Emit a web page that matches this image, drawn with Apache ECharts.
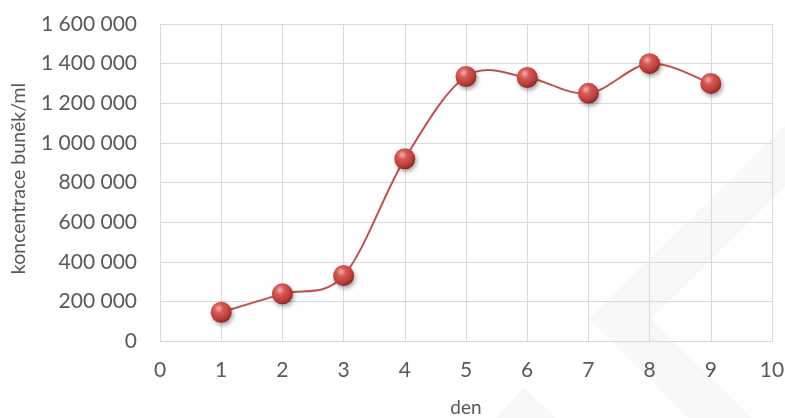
<!DOCTYPE html>
<html>
<head>
<meta charset="utf-8">
<script src="https://cdn.jsdelivr.net/npm/echarts@6/dist/echarts.min.js"></script>
<style>
  html, body { margin: 0; padding: 0; background: #ffffff; }
  #chart { width: 785px; height: 418px; }
</style>
</head>
<body>
<div id="chart"></div>
<script>
// Cell concentration per day
const days = [1, 2, 3, 4, 5, 6, 7, 8, 9];
const concentration = [145000, 238000, 330000, 920000, 1335000, 1330000, 1250000, 1400000, 1300000];
const xTicks = [0, 1, 2, 3, 4, 5, 6, 7, 8, 9, 10];
const yTicks = [0, 200000, 400000, 600000, 800000, 1000000, 1200000, 1400000, 1600000];

const xAxisTitle = 'den';
const yAxisTitle = 'koncentrace buněk/ml';

const FONT = 'Lato, "Open Sans", sans-serif';
const TEXT_COLOR = '#595959';
const GRID_COLOR = '#d9d9d9';
const LINE_COLOR = '#c0504d';

function spaced(v) {
  return String(v).replace(/\B(?=(\d{3})+(?!\d))/g, ' ');
}

const points = days.map((d, i) => [d, concentration[i]]);

// Catmull-Rom style smoothed path through all points, in pixel space
function smoothPath(api) {
  const px = points.map(p => api.coord(p));
  let d = 'M' + px[0][0] + ' ' + px[0][1];
  for (let i = 0; i < px.length - 1; i++) {
    const p0 = px[Math.max(i - 1, 0)];
    const p1 = px[i];
    const p2 = px[i + 1];
    const p3 = px[Math.min(i + 2, px.length - 1)];
    const c1x = p1[0] + (p2[0] - p0[0]) / 6;
    const c1y = p1[1] + (p2[1] - p0[1]) / 6;
    const c2x = p2[0] - (p3[0] - p1[0]) / 6;
    const c2y = p2[1] - (p3[1] - p1[1]) / 6;
    d += ' C' + c1x + ' ' + c1y + ' ' + c2x + ' ' + c2y + ' ' + p2[0] + ' ' + p2[1];
  }
  return d;
}

const sphere = {
  type: 'radial', x: 0.38, y: 0.32, r: 0.72,
  colorStops: [
    { offset: 0, color: '#f6b3b1' },
    { offset: 0.3, color: '#d65a57' },
    { offset: 0.75, color: '#b83b38' },
    { offset: 1, color: '#7d2422' }
  ]
};

const chart = echarts.init(document.getElementById('chart'), null, { renderer: 'canvas' });
chart.setOption({
  animation: false,
  backgroundColor: '#ffffff',
  graphic: [
    {
      type: 'polygon', z: -10, silent: true,
      shape: { points: [[785, 126], [589, 319], [689, 418], [752, 418], [651, 319], [785, 186]] },
      style: { fill: '#f7f7f7' }
    },
    {
      type: 'polygon', z: -10, silent: true,
      shape: { points: [[496, 418], [524, 388], [556, 418]] },
      style: { fill: '#f7f7f7' }
    }
  ],
  grid: { left: 160, top: 24, width: 612, height: 317, containLabel: false, outerBoundsMode: 'none' },
  xAxis: {
    type: 'value',
    min: xTicks[0], max: xTicks[xTicks.length - 1], interval: 1,
    name: xAxisTitle, nameLocation: 'middle', nameGap: 57,
    nameTextStyle: { fontFamily: FONT, fontSize: 19, color: TEXT_COLOR },
    axisLine: { show: true, lineStyle: { color: GRID_COLOR, width: 1 } },
    axisTick: { show: false },
    axisLabel: { margin: 19, fontFamily: FONT, fontSize: 21, color: TEXT_COLOR },
    splitLine: { show: true, lineStyle: { color: GRID_COLOR, width: 1 } }
  },
  yAxis: {
    type: 'value',
    min: yTicks[0], max: yTicks[yTicks.length - 1], interval: 200000,
    name: yAxisTitle, nameLocation: 'middle', nameGap: 131, nameRotate: 90,
    nameTextStyle: { fontFamily: FONT, fontSize: 19.5, color: TEXT_COLOR, padding: [0, 0, 0, 8] },
    axisLine: { show: true, lineStyle: { color: GRID_COLOR, width: 1 } },
    axisTick: { show: false },
    axisLabel: { margin: 23, fontFamily: FONT, fontSize: 21, color: TEXT_COLOR, formatter: spaced },
    splitLine: { show: true, lineStyle: { color: GRID_COLOR, width: 1 } }
  },
  series: [
    {
      type: 'custom',
      data: points,
      encode: { x: 0, y: 1 },
      z: 2,
      silent: true,
      renderItem: function (params, api) {
        if (params.dataIndex !== 0) return null;
        return {
          type: 'path',
          shape: { pathData: smoothPath(api) },
          style: { stroke: LINE_COLOR, fill: 'none', lineWidth: 2 }
        };
      }
    },
    {
      type: 'scatter',
      data: points,
      symbol: 'circle',
      symbolSize: 21,
      itemStyle: {
        color: sphere,
        opacity: 1,
        borderWidth: 0,
        shadowColor: 'rgba(0,0,0,0.35)',
        shadowBlur: 4,
        shadowOffsetX: 1.5,
        shadowOffsetY: 2.5
      },
      z: 3
    }
  ]
});
</script>
</body>
</html>
